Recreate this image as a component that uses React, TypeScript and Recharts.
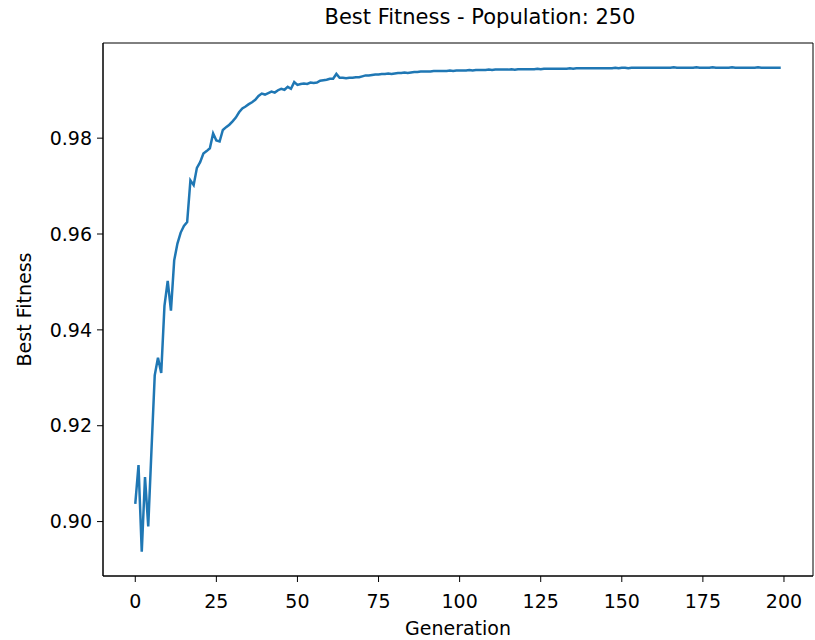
import { CartesianGrid, Line, LineChart, ReferenceArea, XAxis, YAxis } from 'recharts';

// best fitness per generation
const bestFitness = [
  0.9037, 0.9118, 0.8937, 0.9093, 0.899, 0.915, 0.9305, 0.9342, 0.931, 0.945,
  0.9502, 0.944, 0.9545, 0.958, 0.9603, 0.9617, 0.9625, 0.9712, 0.9702, 0.9738,
  0.975, 0.9768, 0.9773, 0.9779, 0.981, 0.9795, 0.9793, 0.9817, 0.9823, 0.9828,
  0.9835, 0.9843, 0.9854, 0.9862, 0.9866, 0.9871, 0.9875, 0.988, 0.9888, 0.9893,
  0.9891, 0.9894, 0.9897, 0.9895, 0.99, 0.9903, 0.9901, 0.9907, 0.9903, 0.9917,
  0.9911, 0.9913, 0.9914, 0.9913, 0.9916, 0.9915, 0.9916, 0.992, 0.9921, 0.9922,
  0.9924, 0.9924, 0.9934, 0.9926, 0.9926, 0.9925, 0.9926, 0.9926, 0.9927, 0.9927,
  0.9929, 0.9931, 0.9931, 0.9932, 0.9933, 0.9933, 0.9934, 0.9934, 0.9935, 0.9934,
  0.9935, 0.9936, 0.9936, 0.9937, 0.9936, 0.9937, 0.9938, 0.9938, 0.9939, 0.9939,
  0.9939, 0.9939, 0.994, 0.994, 0.994, 0.994, 0.994, 0.9941, 0.994, 0.9941,
  0.9941, 0.9941, 0.9941, 0.9942, 0.9941, 0.9942, 0.9942, 0.9942, 0.9942, 0.9943,
  0.9942, 0.9943, 0.9943, 0.9943, 0.9943, 0.9943, 0.9944, 0.9943, 0.9944, 0.9944,
  0.9944, 0.9944, 0.9944, 0.9944, 0.9945, 0.9944, 0.9945, 0.9945, 0.9945, 0.9945,
  0.9945, 0.9945, 0.9945, 0.9945, 0.9946, 0.9945, 0.9946, 0.9946, 0.9946, 0.9946,
  0.9946, 0.9946, 0.9946, 0.9946, 0.9946, 0.9946, 0.9946, 0.9946, 0.9947, 0.9946,
  0.9947, 0.9947, 0.9946, 0.9947, 0.9947, 0.9947, 0.9947, 0.9947, 0.9947, 0.9947,
  0.9947, 0.9947, 0.9947, 0.9947, 0.9947, 0.9947, 0.9948, 0.9947, 0.9947, 0.9947,
  0.9947, 0.9947, 0.9947, 0.9948, 0.9947, 0.9947, 0.9947, 0.9947, 0.9948, 0.9947,
  0.9947, 0.9947, 0.9947, 0.9947, 0.9948, 0.9947, 0.9947, 0.9947, 0.9947, 0.9947,
  0.9947, 0.9947, 0.9948, 0.9947, 0.9947, 0.9947, 0.9947, 0.9947, 0.9947, 0.9947,
];

const xTicks = [0, 25, 50, 75, 100, 125, 150, 175, 200];
const yTicks = [0.9, 0.92, 0.94, 0.96, 0.98];

const data = bestFitness.map((v, i) => ({ generation: i, fitness: v }));

// matplotlib style 5% margins around the data
const xPad = (bestFitness.length - 1) * 0.05;
const xDomain = [-xPad, bestFitness.length - 1 + xPad];
const yMin = Math.min(...bestFitness);
const yMax = Math.max(...bestFitness);
const yPad = (yMax - yMin) * 0.05;
const yDomain = [yMin - yPad, yMax + yPad];

const font = "'DejaVu Sans', sans-serif";

export default function App() {
  return (
    <div style={{ position: 'absolute', left: 0, top: 0, width: 815, height: 640, background: '#fff', fontFamily: font }}>
      <div
        style={{
          position: 'absolute',
          left: 125,
          width: 710,
          top: 5,
          textAlign: 'center',
          fontSize: 21,
          color: '#000',
        }}
      >
        Best Fitness - Population: 250
      </div>
      <LineChart
        width={815}
        height={640}
        data={data}
        margin={{ top: 43, right: 2, bottom: 0, left: 43 }}
      >
        <CartesianGrid stroke='none' />
        <XAxis
          dataKey='generation'
          type='number'
          domain={xDomain}
          allowDataOverflow
          ticks={xTicks}
          height={64}
          tickSize={6}
          tickMargin={13}
          axisLine={{ stroke: '#000' }}
          tickLine={{ stroke: '#000' }}
          tick={{ fill: '#000', fontSize: 19, fontFamily: font }}
          label={{ value: 'Generation', position: 'insideBottom', offset: 5, fill: '#000', fontSize: 19, fontFamily: font }}
        />
        <YAxis
          type='number'
          domain={yDomain}
          allowDataOverflow
          ticks={yTicks}
          width={60}
          tickSize={6}
          tickMargin={5}
          tickFormatter={(v: number) => v.toFixed(2)}
          axisLine={{ stroke: '#000' }}
          tickLine={{ stroke: '#000' }}
          tick={{ fill: '#000', fontSize: 19, fontFamily: font }}
          label={{
            value: 'Best Fitness',
            angle: -90,
            position: 'insideLeft',
            offset: -19,
            style: { textAnchor: 'middle' },
            fill: '#000',
            fontSize: 19,
            fontFamily: font,
          }}
        />
        <ReferenceArea
          x1={xDomain[0]}
          x2={xDomain[1]}
          y1={yDomain[0]}
          y2={yDomain[1]}
          fill='none'
          stroke='#000'
          strokeWidth={1}
          ifOverflow='extendDomain'
        />
        <Line
          type='linear'
          dataKey='fitness'
          stroke='#1f77b4'
          strokeWidth={2.5}
          dot={false}
          isAnimationActive={false}
        />
      </LineChart>
    </div>
  );
}
